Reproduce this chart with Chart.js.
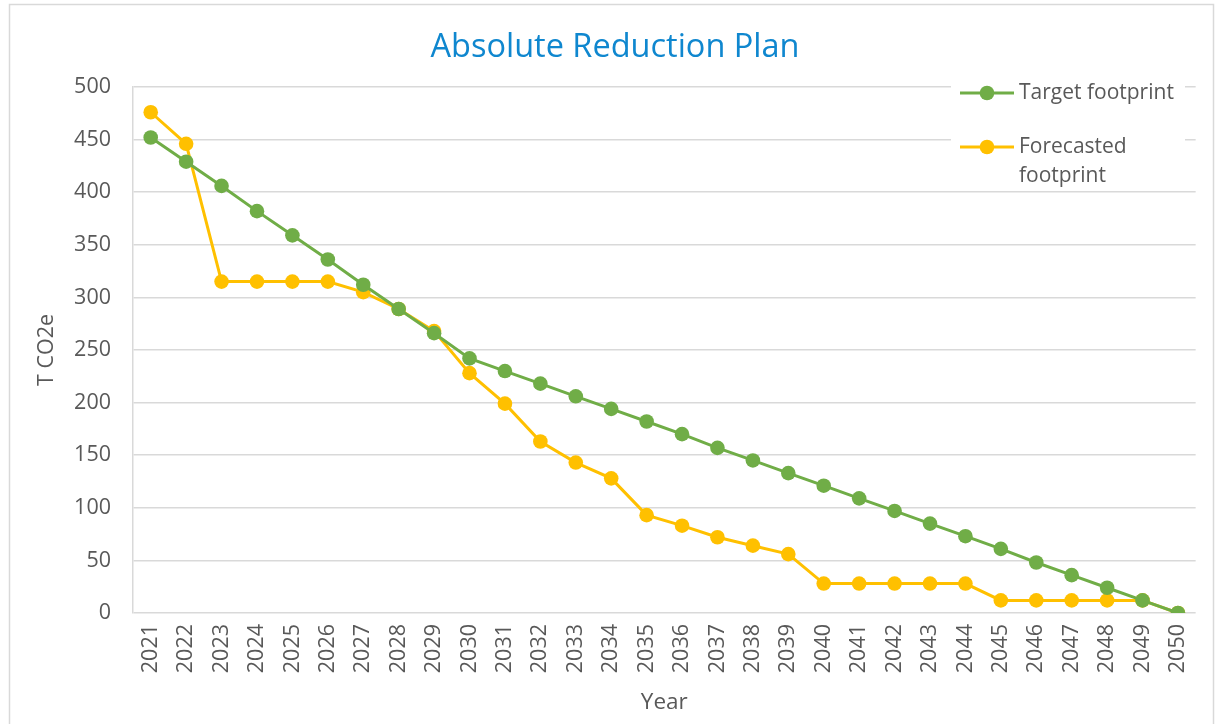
<!DOCTYPE html>
<html>
<head>
<meta charset="utf-8">
<script src="https://cdn.jsdelivr.net/npm/chart.js@4/dist/chart.umd.min.js"></script>
<style>
  html, body { margin: 0; padding: 0; background: #fff; }
  #wrap { position: relative; width: 1215px; height: 724px; }
</style>
</head>
<body>
<div id="wrap"><canvas id="c" width="1215" height="724"></canvas></div>
<script>
const years = ['2021','2022','2023','2024','2025','2026','2027','2028','2029','2030',
               '2031','2032','2033','2034','2035','2036','2037','2038','2039','2040',
               '2041','2042','2043','2044','2045','2046','2047','2048','2049','2050'];
const targetFootprint = [452, 429, 406, 382, 359, 336, 312, 289, 266, 242,
                         230, 218, 206, 194, 182, 170, 157, 145, 133, 121,
                         109, 97, 85, 73, 61, 48, 36, 24, 12, 0];
const forecastedFootprint = [476, 446, 315, 315, 315, 315, 305, 289, 268, 228,
                             199, 163, 143, 128, 93, 83, 72, 64, 56, 28,
                             28, 28, 28, 28, 12, 12, 12, 12, 12, 0];
const seriesLabels = ['Target footprint', ['Forecasted', 'footprint']];
const yTicks = [0, 50, 100, 150, 200, 250, 300, 350, 400, 450, 500];

const FONT = "'Open Sans', 'Liberation Sans', sans-serif";
const GREEN = '#70AD47';
const GOLD = '#FFC000';
const TEXT = '#595959';
const GRID = '#D9D9D9';

const frame = {
  id: 'frame',
  beforeDraw(chart) {
    const ctx = chart.ctx;
    ctx.save();
    ctx.fillStyle = '#fff';
    ctx.fillRect(0, 0, chart.width, chart.height);
    ctx.strokeStyle = '#D9D9D9';
    ctx.lineWidth = 1.5;
    ctx.strokeRect(9.5, 4.5, 1204, 725);
    ctx.restore();
  }
};

const overlayLegend = {
  id: 'overlayLegend',
  afterDatasetsDraw(chart) {
    const ctx = chart.ctx;
    ctx.save();
    ctx.fillStyle = '#fff';
    ctx.fillRect(951, 78, 234, 110);
    const rows = [93, 147];
    chart.data.datasets.forEach((ds, i) => {
      const y = rows[i];
      ctx.strokeStyle = ds.borderColor;
      ctx.lineWidth = 3;
      ctx.beginPath();
      ctx.moveTo(960, y);
      ctx.lineTo(1014, y);
      ctx.stroke();
      ctx.fillStyle = ds.backgroundColor;
      ctx.beginPath();
      ctx.arc(987, y, 7.3, 0, Math.PI * 2);
      ctx.fill();
      ctx.fillStyle = TEXT;
      ctx.font = '21px ' + FONT;
      ctx.textBaseline = 'middle';
      ctx.textAlign = 'left';
      const lines = Array.isArray(ds.label) ? ds.label : [ds.label];
      lines.forEach((t, k) => ctx.fillText(t, 1019, y + k * 29));
    });
    ctx.restore();
  }
};

new Chart(document.getElementById('c'), {
  type: 'line',
  data: {
    labels: years,
    datasets: [
      {
        label: seriesLabels[0],
        data: targetFootprint,
        borderColor: GREEN,
        backgroundColor: GREEN,
        borderWidth: 3,
        pointRadius: 7.3,
        pointBackgroundColor: GREEN,
        pointBorderWidth: 0,
        tension: 0
      },
      {
        label: seriesLabels[1],
        data: forecastedFootprint,
        borderColor: GOLD,
        backgroundColor: GOLD,
        borderWidth: 3,
        pointRadius: 7.3,
        pointBackgroundColor: GOLD,
        pointBorderWidth: 0,
        tension: 0
      }
    ]
  },
  options: {
    responsive: false,
    animation: false,
    layout: { padding: { left: 30, right: 15, top: 0, bottom: 0 } },
    plugins: {
      legend: { display: false },
      tooltip: { enabled: false },
      title: {
        display: true,
        text: 'Absolute Reduction Plan',
        color: '#0F87CF',
        font: { family: FONT, size: 32.5, weight: 'normal', lineHeight: 1.2 },
        padding: { top: 28.5, bottom: 19.5 }
      }
    },
    scales: {
      x: {
        offset: true,
        grid: { display: false, drawTicks: false },
        border: { display: false },
        ticks: {
          color: TEXT,
          font: { family: FONT, size: 21.5 },
          minRotation: 90,
          maxRotation: 90,
          padding: 11,
          autoSkip: false
        },
        title: {
          display: true,
          text: 'Year',
          color: TEXT,
          font: { family: FONT, size: 22.5 },
          padding: { top: 0, bottom: 8 }
        },
        afterFit(s) { s.height = 111; }
      },
      y: {
        min: 0,
        max: 500,
        afterBuildTicks(s) { s.ticks = yTicks.map(v => ({ value: v })); },
        grid: { color: GRID, lineWidth: 1.5, drawTicks: false },
        border: { display: true, color: GRID, width: 1.5 },
        ticks: {
          color: TEXT,
          font: { family: FONT, size: 21.5 },
          padding: 22
        },
        title: {
          display: true,
          text: 'T CO2e',
          color: TEXT,
          font: { family: FONT, size: 21.5 },
          padding: { top: 4, bottom: 0 }
        },
        afterFit(s) { s.width = 103; }
      }
    }
  },
  plugins: [frame, overlayLegend]
});
</script>
</body>
</html>
